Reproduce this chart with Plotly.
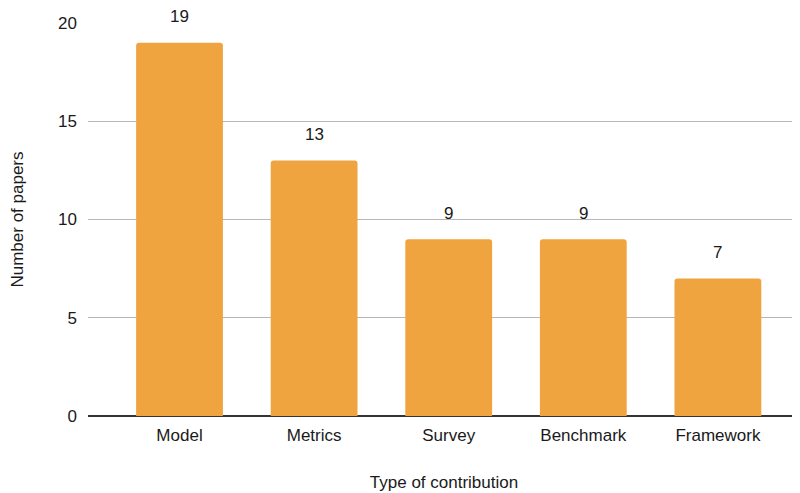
import plotly.graph_objects as go

categories = ["Model", "Metrics", "Survey", "Benchmark", "Framework"]
papers = [19, 13, 9, 9, 7]
y_ticks = [0, 5, 10, 15, 20]

BAR = "#F0A440"
FONT = "Liberation Sans, Arial, sans-serif"
TXT = "#1a1a1a"
FS = 17

fig = go.Figure()
fig.add_trace(go.Bar(
    x=list(range(len(categories))), y=papers,
    marker=dict(color=BAR, line=dict(width=0)),
    width=0.645,
    hoverinfo="skip",
))

annotations = [
    dict(x=i, y=v, text=str(v), showarrow=False, xref="x", yref="y",
         yanchor="middle", yshift=26, font=dict(size=FS, color=TXT, family=FONT))
    for i, v in enumerate(papers)
]

fig.update_layout(
    width=792, height=485,
    margin=dict(l=80, r=0, t=15, b=77),
    plot_bgcolor="white", paper_bgcolor="white",
    font=dict(family=FONT, size=FS, color=TXT),
    showlegend=False,
    barcornerradius=3,
    annotations=annotations,
    xaxis=dict(
        range=[-0.68, 4.61],
        tickmode="array", tickvals=list(range(len(categories))), ticktext=categories,
        showgrid=False, zeroline=False, showline=False,
        ticks="outside", ticklen=4, tickcolor="rgba(0,0,0,0)",
        tickfont=dict(size=FS, color=TXT),
        title=dict(text="Type of contribution", font=dict(size=FS, color=TXT), standoff=31),
    ),
    yaxis=dict(
        range=[0, 20],
        tickmode="array", tickvals=y_ticks,
        showgrid=True, gridcolor="#B7B7B7", gridwidth=1,
        zeroline=True, zerolinecolor="#333333", zerolinewidth=2,
        showline=False, ticks="", ticklabelstandoff=10,
        tickfont=dict(size=FS, color=TXT),
        title=dict(text="Number of papers", font=dict(size=FS, color=TXT), standoff=33),
    ),
)

fig.write_html("out.html")
